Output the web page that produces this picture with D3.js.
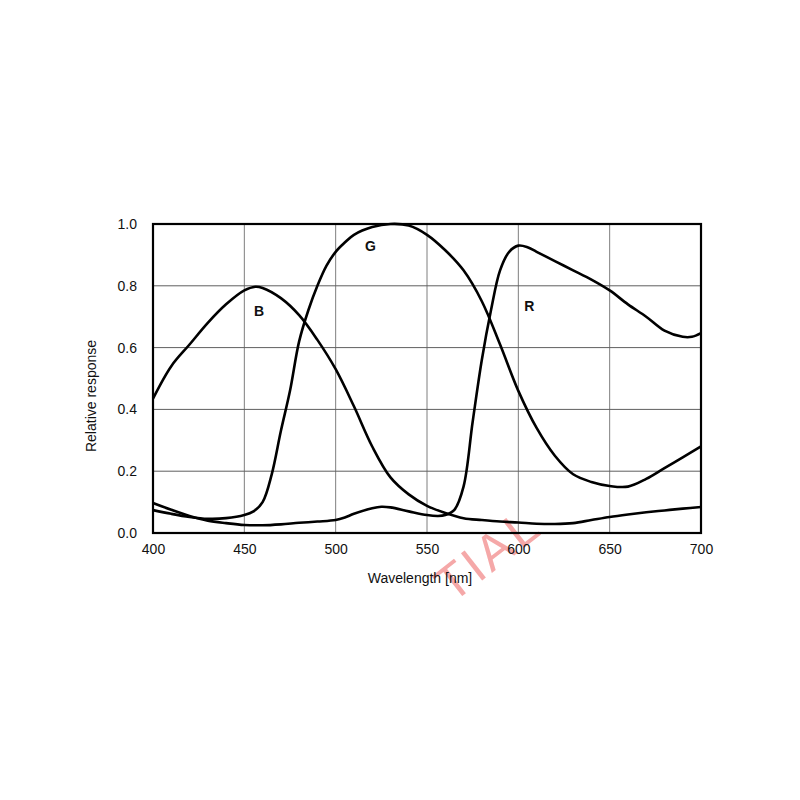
<!DOCTYPE html>
<html>
<head>
<meta charset="utf-8">
<script src="https://cdn.jsdelivr.net/npm/d3@7"></script>
<style>
  body { margin: 0; background: #fff; }
  svg { display: block; font-family: "Liberation Sans", Arial, sans-serif; }
</style>
</head>
<body>
<div id="chart"></div>
<script>
// wavelength [nm] / relative response
var bWave = [400, 410, 420, 430, 440, 450, 456, 460, 470, 480, 490, 500, 510, 520, 530, 540, 550, 560, 570, 580, 590, 600, 610, 620, 630, 640, 650, 660, 670, 680, 690, 700];
var bResp = [0.435, 0.54, 0.61, 0.68, 0.74, 0.785, 0.797, 0.793, 0.76, 0.705, 0.625, 0.53, 0.41, 0.28, 0.18, 0.125, 0.088, 0.065, 0.048, 0.042, 0.037, 0.034, 0.030, 0.029, 0.032, 0.042, 0.052, 0.060, 0.067, 0.073, 0.079, 0.084];

var gWave = [400, 410, 420, 430, 440, 450, 455, 460, 465, 470, 475, 480, 485, 490, 495, 500, 505, 510, 520, 530, 540, 550, 560, 570, 580, 590, 600, 610, 620, 630, 640, 650, 660, 670, 680, 690, 700];
var gResp = [0.074, 0.062, 0.052, 0.046, 0.048, 0.058, 0.07, 0.10, 0.19, 0.33, 0.46, 0.62, 0.72, 0.80, 0.865, 0.91, 0.94, 0.965, 0.99, 1.0, 0.995, 0.965, 0.915, 0.85, 0.75, 0.61, 0.46, 0.34, 0.25, 0.19, 0.165, 0.152, 0.15, 0.175, 0.21, 0.245, 0.28];

var rWave = [400, 410, 420, 430, 440, 450, 460, 470, 480, 490, 500, 505, 510, 520, 525, 530, 540, 550, 556, 560, 565, 570, 575, 580, 585, 590, 595, 600, 605, 610, 620, 630, 640, 650, 660, 670, 680, 690, 695, 700];
var rResp = [0.097, 0.075, 0.055, 0.040, 0.032, 0.026, 0.025, 0.028, 0.033, 0.037, 0.042, 0.05, 0.062, 0.08, 0.085, 0.083, 0.07, 0.058, 0.055, 0.058, 0.075, 0.15, 0.36, 0.56, 0.72, 0.85, 0.91, 0.93, 0.925, 0.91, 0.88, 0.85, 0.82, 0.785, 0.74, 0.70, 0.655, 0.635, 0.635, 0.647];

var xTicks = [400, 450, 500, 550, 600, 650, 700];
var yTicks = [0, 0.2, 0.4, 0.6, 0.8, 1.0];

var width = 800, height = 800;
var margin = { top: 224, right: 99, bottom: 267, left: 153 };

var svg = d3.select("#chart").append("svg")
    .attr("width", width)
    .attr("height", height);

var x = d3.scaleLinear().domain([400, 700]).range([margin.left, width - margin.right]);
var y = d3.scaleLinear().domain([0, 1]).range([height - margin.bottom, margin.top]);

// watermark fragment
svg.append("text")
    .attr("transform", "translate(452,604) rotate(-38)")
    .attr("font-size", 50)
    .attr("fill", "#f5a8a8")
    .attr("letter-spacing", 3)
    .text("TIAL");

// grid
svg.append("g").selectAll("line").data(xTicks.slice(1, -1)).enter().append("line")
    .attr("x1", function (d) { return x(d); }).attr("x2", function (d) { return x(d); })
    .attr("y1", y(0)).attr("y2", y(1))
    .attr("stroke", "#7f7f7f").attr("stroke-width", 1);
svg.append("g").selectAll("line").data(yTicks.slice(1, -1)).enter().append("line")
    .attr("x1", x(400)).attr("x2", x(700))
    .attr("y1", function (d) { return y(d); }).attr("y2", function (d) { return y(d); })
    .attr("stroke", "#5f5f5f").attr("stroke-width", 1);

// curves
var line = d3.line()
    .x(function (d) { return x(d[0]); })
    .y(function (d) { return y(d[1]); })
    .curve(d3.curveCatmullRom.alpha(0.5));

[[bWave, bResp], [gWave, gResp], [rWave, rResp]].forEach(function (s) {
    svg.append("path")
        .datum(d3.zip(s[0], s[1]))
        .attr("fill", "none")
        .attr("stroke", "#000")
        .attr("stroke-width", 2.6)
        .attr("d", line);
});

// frame
svg.append("rect")
    .attr("x", x(400)).attr("y", y(1))
    .attr("width", x(700) - x(400)).attr("height", y(0) - y(1))
    .attr("fill", "none").attr("stroke", "#000").attr("stroke-width", 2.2);

// axes (labels only)
var xAxis = svg.append("g")
    .attr("transform", "translate(0," + y(0) + ")")
    .call(d3.axisBottom(x).tickValues(xTicks).tickSize(0).tickPadding(11).tickFormat(d3.format("d")));
var yAxis = svg.append("g")
    .attr("transform", "translate(" + x(400) + ",0)")
    .call(d3.axisLeft(y).tickValues(yTicks).tickSize(0).tickPadding(16).tickFormat(d3.format(".1f")));
[xAxis, yAxis].forEach(function (a) {
    a.select(".domain").remove();
    a.selectAll("text").attr("font-size", 14).attr("fill", "#111")
        .attr("font-family", "Liberation Sans, Arial, sans-serif");
});

svg.append("text")
    .attr("x", 420).attr("y", 583)
    .attr("text-anchor", "middle").attr("font-size", 14).attr("fill", "#111")
    .text("Wavelength [nm]");
svg.append("text")
    .attr("transform", "translate(96,396) rotate(-90)")
    .attr("text-anchor", "middle").attr("font-size", 14).attr("fill", "#111")
    .text("Relative response");

// curve labels
var curveLabels = [["B", 458, 0.715], ["G", 519, 0.925], ["R", 606, 0.73]];
svg.selectAll(".clabel").data(curveLabels).enter().append("text")
    .attr("x", function (d) { return x(d[1]); })
    .attr("y", function (d) { return y(d[2]); })
    .attr("text-anchor", "middle").attr("dominant-baseline", "middle")
    .attr("font-size", 14).attr("font-weight", "bold").attr("fill", "#111")
    .text(function (d) { return d[0]; });
</script>
</body>
</html>
